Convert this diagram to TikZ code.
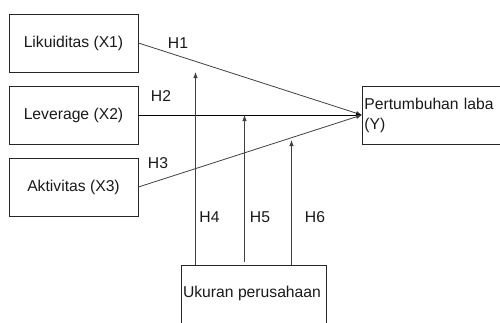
\documentclass[tikz,border=0pt]{standalone}
\usepackage{fontspec}
\setmainfont{Liberation Sans}
\usetikzlibrary{arrows.meta}
\begin{document}
\begin{tikzpicture}[x=1pt,y=-1pt,
  every node/.style={font=\fontsize{15.7}{20}\selectfont, text=black!90},
  varbox/.style={draw=black!85, line width=0.9pt, minimum width=129pt, minimum height=58pt, inner sep=0pt},
  link/.style={draw=black!75, line width=0.8pt},
  arr/.style={link, -{Latex[length=6pt,width=4.5pt]}},
  hlabel/.style={inner sep=0pt}]
\useasboundingbox (0,0) rectangle (500,322);
\clip (0,0) rectangle (500,322);

% independent variables
\node[varbox] (x1) at (73.5,43) {Likuiditas (X1)};
\node[varbox] (x2) at (73.5,115) {Leverage (X2)};
\node[varbox] (x3) at (73.5,187) {Aktivitas (X3)};

% dependent variable (box runs past the right edge)
\node[draw=black!85, line width=0.9pt, anchor=west, text width=144pt, inner xsep=2pt,
      minimum height=58pt, align=left] (y) at (362,115) {Pertumbuhan laba\\(Y)};

% moderating variable (box runs past the bottom edge)
\node[draw=black!85, line width=0.9pt, anchor=north, minimum width=145pt, minimum height=80pt,
      inner sep=0pt] (uk) at (254,265) {};
\node[hlabel] (uktext) at (252,293) {Ukuran perusahaan};

% direct effects
\draw[arr] (x1.east) -- (y.west);
\draw[arr, draw=black] (x2.east) -- (y.west);
\draw[arr] (x3.east) -- (y.west);

% moderating effects
\coordinate (t4) at (195.5,72);
\coordinate (t5) at (244.5,115);
\coordinate (b5) at (244.5,262);
\coordinate (t6) at (291.5,140);
\draw[arr] (t4 |- uk.north) -- (t4);
\draw[arr] (b5) -- (t5);
\draw[arr] (t6 |- uk.north) -- (t6);

% hypothesis labels
\node[hlabel] (h1) at (178,43) {H1};
\node[hlabel] (h2) at (161,96) {H2};
\node[hlabel] (h3) at (158,163) {H3};
\node[hlabel] (h4) at (209.5,217) {H4};
\node[hlabel] (h5) at (260,217) {H5};
\node[hlabel] (h6) at (315,217) {H6};
\end{tikzpicture}
\end{document}
